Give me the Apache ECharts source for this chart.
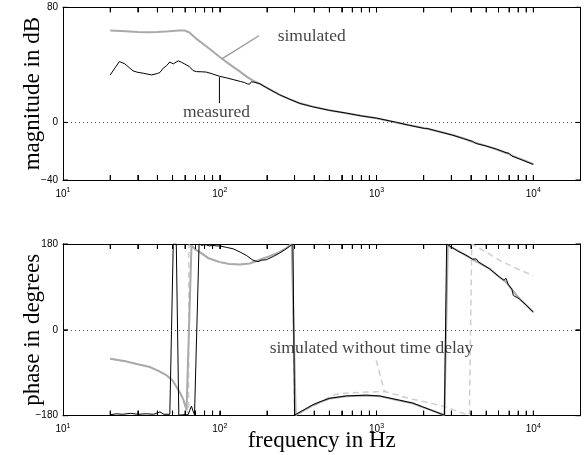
<!DOCTYPE html>
<html><head><meta charset="utf-8">
<script src="https://cdn.jsdelivr.net/npm/echarts@6/dist/echarts.min.js"></script>
<style>html,body{margin:0;padding:0;background:#fff}#c{width:585px;height:455px}</style>
</head><body><div id="c"></div>
<script>
// ---- tick values ----
const xMajorTicks = [10, 100, 1000, 10000];
const xAllTicks = [20,30,40,50,60,70,80,90,100,200,300,400,500,600,700,800,900,
  1000,2000,3000,4000,5000,6000,7000,8000,9000,10000];
const xRange = [10, 20000];
const magRange = [-40, 80];
const phaseRange = [-180, 180];
const magTicks = [-40, 0, 80];
const phaseTicks = [-180, 0, 180];

// ---- magnitude (dB) ----
const magSimulated = [[20,63.9],[25,63.4],[30,62.9],[35,62.7],[40,62.8],[45,63.1],[50,63.5],[55,63.8],[60,63.8],
  [64,62.5],[70,58.6],[80,53.8],[90,49.5],[100,45.5],[115,40.5],[130,36.5],[150,31.5],[163,29],[180,26.8],
  [200,24],[241,19.2],[280,16],[324,13.3],[393,11],[500,8.5],[641,6.4],[800,4.6],[1000,2.9],[1334,0],
  [1600,-1.8],[2023,-4],[2500,-6.3],[3063,-8.7],[3600,-11.2],[4110,-13.6],[5000,-16.3],[5800,-18.6],
  [6700,-21.2],[8000,-24.8],[9000,-27],[10000,-29]];
const magMeasured = [[20,33],[21.5,38],[22.9,42.3],[24.8,40.7],[26.5,38],[28,35.8],[30,34.8],[32.5,34.2],
  [36.7,33],[40,34],[41.5,34.7],[43.6,37.7],[45.8,39.5],[48,42],[50.5,40.7],[52,41.5],[54.3,42.8],[57,41.8],
  [60,40.5],[64,38.8],[67.6,36],[71,35.3],[76,35.2],[82,35],[90,33.7],[100,32],[110,31],[121.6,29.8],
  [135,28.5],[144,27.7],[150,26.8],[155,26.6],[159,28.2],[165,28],[180,26.9],[200,24],[241,19.2],[280,16.1],
  [324,13.2],[393,10.8],[500,8.4],[641,6.5],[800,4.5],[1000,3],[1334,0.1],[1600,-1.9],[2023,-4.2],[2100,-4.1],
  [2500,-6.4],[3063,-8.9],[3600,-11.3],[4110,-13.2],[4300,-14.6],[5000,-16.4],[5800,-18.5],[6700,-21],
  [7000,-21.4],[7300,-23.4],[8000,-25],[9000,-27.2],[10000,-29.2]];

// ---- phase (degrees) ----
const phaseSimulated = [[20,-60.5],[25,-66],[30,-72],[35.8,-78],[40,-85],[45.7,-95],[50,-106],[53,-120],
  [56,-133],[58.5,-146],[61.4,-168],[66,177],[70,168],[74.6,163],[85,150],[100,142],[115,138],[134,137],
  [155,139],[180,147],[210,155],[241,163],[265,171],[279,177],[288,179],[305,-179],[330,-172],[360,-165],
  [393,-158],[450,-150],[502,-144],[641,-139],[859,-137.5],[1045,-139],[1400,-148],[1700,-154],[1972,-162],
  [2300,-170],[2711,-179],[2846,177],[3300,166],[4110,148],[5250,128.4],[6070,110.8],[6700,100.3],
  [8150,65.4],[9000,52],[10000,37.3]];
const phaseMeasured = [[20,-178],[22,-176],[24,-177],[27,-175],[30,-177],[34,-176],[38,-177],[41.5,-172],
  [44,-177],[48,-177],[50.5,180],[52.8,180],[54.8,-179],[58,-178],[62.8,-178],[64.5,-168],[66,-160],
  [67.5,-170],[69,-178],[71,-178],[73.8,180],[77,177],[80,179],[82.2,178],[86,176],[90.6,177],[95,176],
  [100,176],[110,173],[121.6,170],[135,163],[147.9,156],[163,146],[170,144],[175.4,143],[185,146],[198,147],
  [220,154],[241,161],[260,168],[279,175],[293,180],[300,-179],[310,-176],[330,-171],[360,-164],[393,-157],
  [450,-149],[502,-143.5],[641,-138.5],[859,-137],[1045,-138.5],[1400,-147.5],[1700,-153.5],[1972,-161.5],
  [2300,-170],[2711,-179],[2800,180],[2846,177],[3300,165],[3700,157],[4110,148],[4317,149],[4400,153],
  [4490,142],[5250,128],[6070,111],[6500,104],[6700,108],[6900,96],[7300,85],[7460,72],[7600,74],
  [8150,65],[9000,52],[10000,37]];
const phaseNoDelay = [[20,-60.5],[25,-66],[30,-72],[35.8,-78],[40,-85],[45.7,-95],[50,-106],[53,-120],
  [56,-133],[58.5,-146],[61.4,-168],[63.3,-176],[63.5,178],[66,175],[70,168],[74.6,163],[85,150],[100,142],
  [115,138],[134,137],[155,139],[180,147],[210,155],[241,163],[265,171],[279,177],[290,179],[300,-179],
  [330,-172],[360,-165],[393,-158],[450,-148],[502,-141],[553,-135],[641,-133],[800,-131],[1000,-130],
  [1153,-130],[1271,-134],[1622,-144],[2073,-151.5],[2781,-162],[3380,-172.4],[3910,-179.4],[4050,180],
  [4100,177],[5000,163],[6070,146],[8000,127],[10000,114]];

// ---- annotations ----
const simLeader = [[102.6,44],[177.8,60.2]];
const measLeader = [[99.5,31.4],[99.5,13.4]];
const noDelayLeader = [[995,-64],[1125,-130.5]];
const simLabel = [234, 59.8];
const measLabel = [95.3, 7.3];
const noDelayLabel = [208, -38.8];

const SERIF = '"Liberation Serif", "Times New Roman", serif';
const SANS = '"Liberation Sans", Arial, sans-serif';
const TICK_LEN = 5;

function sign(v){ return v < 0 ? '\u2212' + Math.abs(v) : String(v); }

function xAxisDef(grid, pos, labels, withName){
  return {
    type:'log', logBase:10, min:xRange[0], max:xRange[1], gridIndex:grid, position:pos,
    axisLine:{show:true, onZero:false, lineStyle:{color:'#000', width:1}},
    axisTick:{show:true, inside:true, length:TICK_LEN, customValues:xAllTicks, lineStyle:{color:'#000', width:1}},
    axisLabel:{show:labels, customValues:xMajorTicks, margin:7,
      formatter: v => '{b|10}{s|' + Math.round(Math.log10(v)) + '}',
      rich:{ b:{fontFamily:SANS, fontSize:10, color:'#000', padding:[2,0,0,0]},
             s:{fontFamily:SANS, fontSize:7, color:'#000', verticalAlign:'top'} } },
    splitLine:{show:false}, minorTick:{show:false},
    name: withName ? 'frequency in Hz' : '', nameLocation:'middle', nameGap:14, nameMoveOverlap:false,
    nameTextStyle:{fontFamily:SERIF, fontSize:23, color:'#000'}
  };
}
function yAxisDef(grid, pos, range, ticks, labels, name){
  return {
    type:'value', min:range[0], max:range[1], gridIndex:grid, position:pos,
    axisLine:{show:true, onZero:false, lineStyle:{color:'#000', width:1}},
    axisTick:{show:true, inside:true, length:TICK_LEN, customValues:ticks, lineStyle:{color:'#000', width:1}},
    axisLabel:{show:labels, customValues:ticks, margin:5, formatter:sign,
      fontFamily:SANS, fontSize:10, color:'#000'},
    splitLine:{show:false},
    name: name || '', nameLocation:'middle', nameGap:19, nameMoveOverlap:false,
    nameTextStyle:{fontFamily:SERIF, fontSize:23, color:'#000'}
  };
}
const zeroLine = {silent:true, symbol:'none', animation:false, label:{show:false},
  lineStyle:{type:[1,3], color:'#555', width:1}, data:[{yAxis:0}]};

function line(data, xi, yi, color, width, dash, z){
  return {type:'line', data:data, xAxisIndex:xi, yAxisIndex:yi, showSymbol:false, symbol:'none',
    silent:true, animation:false, z:z,
    lineStyle:{color:color, width:width, type:dash || 'solid'}};
}
function textMark(pt, text, xi, yi, position){
  return {type:'scatter', data:[pt], xAxisIndex:xi, yAxisIndex:yi, symbolSize:0, silent:true,
    animation:false, z:10,
    label:{show:true, position:position, distance:0, formatter:text,
      fontFamily:SERIF, fontSize:17.5, color:'#111'}};
}
// inward tick marks on all four box sides, placed through the axes' own scales
function xTickSeries(xi, yi, yRange){
  return {type:'custom', xAxisIndex:xi, yAxisIndex:yi, silent:true, animation:false, z:5, clip:false,
    data: xAllTicks.map(f => [f, yRange[0]]),
    renderItem:(params, api) => {
      const f = api.value(0);
      const b = api.coord([f, yRange[0]]), t = api.coord([f, yRange[1]]);
      const st = {stroke:'#000', lineWidth:1, fill:null};
      return {type:'group', children:[
        {type:'line', shape:{x1:b[0], y1:b[1], x2:b[0], y2:b[1]-TICK_LEN}, style:st},
        {type:'line', shape:{x1:t[0], y1:t[1], x2:t[0], y2:t[1]+TICK_LEN}, style:st}]};
    }};
}
function yTickSeries(xi, yi, ticks){
  return {type:'custom', xAxisIndex:xi, yAxisIndex:yi, silent:true, animation:false, z:5, clip:false,
    data: ticks.map(v => [xRange[0], v]),
    renderItem:(params, api) => {
      const v = api.value(1);
      const l = api.coord([xRange[0], v]), r = api.coord([xRange[1], v]);
      const st = {stroke:'#000', lineWidth:1, fill:null};
      return {type:'group', children:[
        {type:'line', shape:{x1:l[0], y1:l[1], x2:l[0]+TICK_LEN, y2:l[1]}, style:st},
        {type:'line', shape:{x1:r[0], y1:r[1], x2:r[0]-TICK_LEN, y2:r[1]}, style:st}]};
    }};
}

const chart = echarts.init(document.getElementById('c'), null, {renderer:'canvas'});
chart.setOption({
  backgroundColor:'#fff',
  animation:false,
  grid:[
    {left:63, right:4.5, top:7.3, height:172.7, show:false, outerBoundsMode:'none', containLabel:false},
    {left:63, right:4.5, top:244, height:171.7, show:false, outerBoundsMode:'none', containLabel:false}
  ],
  xAxis:[
    xAxisDef(0,'bottom',true,false), xAxisDef(0,'top',false,false),
    xAxisDef(1,'bottom',true,true), xAxisDef(1,'top',false,false)
  ],
  yAxis:[
    yAxisDef(0,'left',magRange,magTicks,true,'magnitude in dB'), yAxisDef(0,'right',magRange,magTicks,false),
    yAxisDef(1,'left',phaseRange,phaseTicks,true,'phase in degrees'), yAxisDef(1,'right',phaseRange,phaseTicks,false)
  ],
  series:[
    xTickSeries(0,0,magRange), yTickSeries(0,0,magTicks),
    xTickSeries(2,2,phaseRange), yTickSeries(2,2,phaseTicks),
    Object.assign(line(magSimulated,0,0,'#a9a9a9',2,null,2), {markLine:zeroLine}),
    line(magMeasured,0,0,'#000',1,null,3),
    line(simLeader,0,0,'#999',1.3,null,2),
    line(measLeader,0,0,'#000',1,null,3),
    textMark(simLabel,'simulated',0,0,'right'),
    textMark(measLabel,'measured',0,0,'inside'),
    Object.assign(line(phaseNoDelay,2,2,'#cfcfcf',1.5,[6,4],1), {markLine:zeroLine}),
    line(phaseSimulated,2,2,'#a9a9a9',2,null,2),
    line(phaseMeasured,2,2,'#000',1,null,3),
    line(noDelayLeader,2,2,'#cfcfcf',1.5,[6,4],1),
    textMark(noDelayLabel,'simulated without time delay',2,2,'right')
  ]
});
</script></body></html>
